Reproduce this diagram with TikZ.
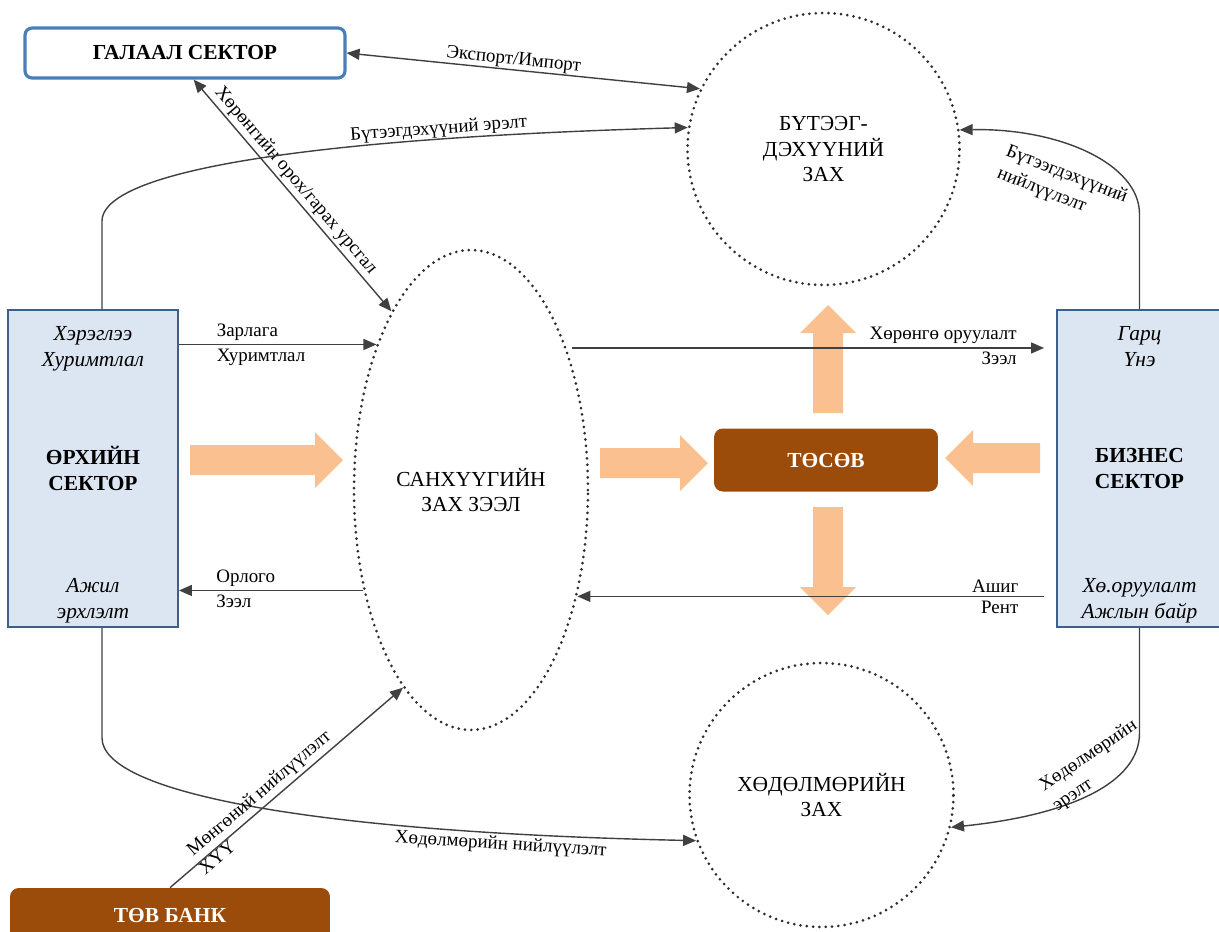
\documentclass[tikz,border=0pt]{standalone}
\usepackage{fontspec}
\setmainfont{Liberation Serif}
\usetikzlibrary{arrows.meta,positioning,shapes.geometric,calc}
\definecolor{sectfill}{RGB}{220,230,242}
\definecolor{secline}{RGB}{60,95,140}
\definecolor{extline}{RGB}{74,126,187}
\definecolor{budbrown}{RGB}{156,76,10}
\definecolor{peach}{RGB}{250,192,144}
\definecolor{linegray}{RGB}{64,64,64}
\definecolor{dotgray}{RGB}{45,45,45}
\newcommand{\bigsz}{\fontsize{12.2}{14.5}\selectfont}
\newcommand{\lblsz}{\fontsize{10.8}{13.5}\selectfont}
\begin{document}
\begin{tikzpicture}[x=0.02cm, y=-0.02cm,
  sect/.style={draw=secline, line width=1.1pt, fill=sectfill, minimum width=3.4cm, minimum height=6.34cm, align=center, font=\bigsz\bfseries, inner sep=0pt},
  ext/.style={draw=extline, line width=1.8pt, fill=white, rounded corners=4pt, minimum width=6.4cm, minimum height=1cm, font=\bigsz\bfseries},
  budg/.style={fill=budbrown, rounded corners=5pt, text=white, font=\bigsz\bfseries},
  dotline/.style={draw=dotgray, line width=1.7pt, dash pattern=on 0pt off 3.6pt, line cap=round},
  mkt/.style={dotline, align=center, font=\bigsz, inner sep=0pt},
  itl/.style={font=\bigsz\itshape, align=center, inner sep=0pt},
  lbl/.style={font=\lblsz, inner sep=2pt},
  arr/.style={-{Triangle[length=2.6mm,width=2.2mm]}, line width=0.8pt, draw=linegray},
  darr/.style={{Triangle[length=2.6mm,width=2.2mm]}-{Triangle[length=2.6mm,width=2.2mm]}, line width=0.8pt, draw=linegray},
  pics/fat/.style={code={\fill[peach] (0,-15) -- (#1-28,-15) -- (#1-28,-28) -- (#1,0) -- (#1-28,28) -- (#1-28,15) -- (0,15) -- cycle;}}]
\clip (0,0) rectangle (1219,931);
% том сумнууд
\pic at (190,460) {fat=153};
\pic at (600,463) {fat=108};
\pic[rotate=180] at (1040,458) {fat=95};
\pic[rotate=90] at (828,413) {fat=108};
\pic[rotate=-90] at (828,507) {fat=108};
% секторууд
\node[ext]  (gs) at (185,53)      {ГАЛААЛ СЕКТОР};
\node[sect] (hh) at (93,468.5)    {ӨРХИЙН\\СЕКТОР};
\node[sect, minimum width=3.3cm] (bs) at (1139.5,468.5) {БИЗНЕС\\СЕКТОР};
\node[budg, minimum width=4.48cm, minimum height=1.26cm] (ts) at (826,460) {ТӨСӨВ};
\node[budg, minimum width=6.4cm, minimum height=1.08cm] (tb) at (170,915) {ТӨВ БАНК};
\node[itl, anchor=north] (hh1) at ([yshift=-3.5mm]hh.north) {Хэрэглээ\\Хуримтлал};
\node[itl, anchor=south] (hh2) at ([yshift=1mm]hh.south) {Ажил\\эрхлэлт};
\node[itl, anchor=north] (bs1) at ([yshift=-3.5mm]bs.north) {Гарц\\Үнэ};
\node[itl, anchor=south] (bs2) at ([yshift=1mm]bs.south) {Хө.оруулалт\\Ажлын байр};
% зах зээлүүд
\node[mkt, circle, minimum size=5.44cm] (pm) at (823.5,149) {БҮТЭЭГ-\\ДЭХҮҮНИЙ\\ЗАХ};
\node[mkt, ellipse, minimum width=4.68cm, minimum height=9.6cm] (fm) at (471,490) {САНХҮҮГИЙН\\ЗАХ ЗЭЭЛ};
\node[mkt, circle, minimum size=5.28cm] (lm) at (821.5,795) {ХӨДӨЛМӨРИЙН\\ЗАХ};
% урсгалууд
\draw[darr] (gs.east) -- (pm.154.8) node[lbl, pos=0.47, sloped, above, inner sep=0.5pt]{Экспорт/Импорт};
\draw[darr] (gs.-72) -- (fm.114) node[lbl, pos=0.47, sloped, above, inner sep=1.5pt]{Хөрөнгийн орох/гарах урсгал};
\draw[arr] ([xshift=1.8mm]hh.north) -- ++(0,-88) .. controls +(0,-42) and (250,140) .. (pm.171.4)
  node[lbl, pos=0.78, sloped, above, inner sep=0.5pt]{Бүтээгдэхүүний эрэлт};
\draw[arr] (bs.north) -- ++(0,-95) .. controls +(0,-50) and (1060,128) .. (pm.8.6)
  node[lbl, pos=0.55, sloped, below, align=left, inner sep=11pt]{Бүтээгдэхүүний\\нийлүүлэлт};
\draw[arr] ([xshift=1.8mm]hh.south) -- ++(0,110) .. controls +(0,53) and (300,832) .. (lm.200)
  node[lbl, pos=0.82, sloped, below, inner sep=1.5pt]{Хөдөлмөрийн нийлүүлэлт};
\draw[arr] (bs.south) -- ++(0,105) .. controls +(0,50) and (1070,815) .. (lm.-14)
  node[lbl, pos=0.4, sloped, above, align=left, inner sep=0.5pt]{Хөдөлмөрийн\\эрэлт};
\draw[arr] (hh.east |- fm.123.6) -- (fm.123.6)
  node[lbl, pos=0.17, anchor=south west]{Зарлага} node[lbl, pos=0.17, anchor=north west]{Хуримтлал};
\draw[arr] (fm.223.9) -- (hh.east |- fm.223.9)
  node[lbl, pos=0.82, anchor=south west]{Орлого} node[lbl, pos=0.82, anchor=north west]{Зээл};
\draw[arr, shorten <=1mm, shorten >=2.4mm] (fm.56.4) -- (bs.west |- fm.56.4)
  node[lbl, pos=0.928, anchor=south east]{Хөрөнгө оруулалт} node[lbl, pos=0.928, anchor=north east]{Зээл};
\draw[arr, shorten <=2.4mm] (bs.west |- fm.-45.6) -- (fm.-45.6)
  node[lbl, pos=0.07, anchor=south east]{Ашиг} node[lbl, pos=0.07, anchor=north east]{Рент};
\draw[arr] (tb.north) -- (fm.251.6)
  node[lbl, pos=0.42, sloped, above]{Мөнгөний нийлүүлэлт} node[lbl, pos=0.18, sloped, below, inner sep=0.5pt]{ХҮҮ};
\end{tikzpicture}
\end{document}
